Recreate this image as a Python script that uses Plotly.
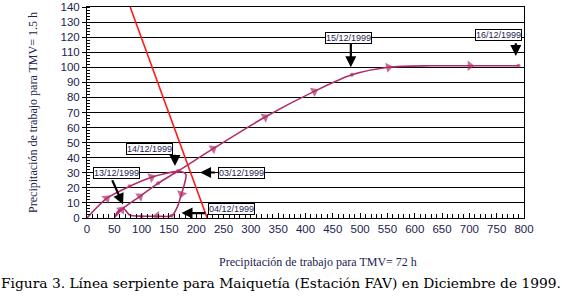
import plotly.graph_objects as go

# Snake line: working precipitation TMV=72 h (x) vs TMV=1.5 h (y)
p72 = [0, 36, 78, 118, 150, 168, 181, 178, 173, 165, 155, 128, 100, 78, 68, 58, 51, 63, 97, 130, 166, 231, 326, 416, 485, 552, 630, 701, 790]
p15 = [0, 13, 21, 27, 30, 31, 29, 22, 16, 7, 1.5, 1.2, 1.2, 2, 6, 5, 0.5, 5.5, 14.4, 23, 31, 46, 67, 84, 95, 100, 101, 101, 101]
marks = ["dot", "arrow", "dot", "arrow", "none", "dot", "none", "none", "arrow", "none", "dot", "arrow", "dot",
         "none", "none", "none", "none", "arrow", "arrow", "dot", "dot", "arrow", "arrow", "arrow",
         "dot", "arrow", "none", "arrow", "dot"]

# Threshold (red) line
red_x = [79, 220]
red_y = [140, 0]

# Date labels: text, box position, arrow tail and arrow tip
date_labels = ["14/12/1999", "13/12/1999", "03/12/1999", "04/12/1999", "15/12/1999", "16/12/1999"]
box_x = [115, 54, 283, 265, 478, 753]
box_y = [45.5, 30, 30, 6.2, 119.3, 121.7]
tail_x = [161, 45, 237, 219, 483, 785]
tail_y = [43, 26, 30.2, 3.3, 117, 117]
tip_x = [161, 66, 207, 173, 483, 785]
tip_y = [34.5, 9, 30.2, 3.3, 100, 107.5]

x_title = "Precipitación de trabajo para TMV= 72 h"
y_title = "Precipitación de trabajo para TMV= 1.5 h"
caption = "Figura 3. Línea serpiente para Maiquetía (Estación FAV) en Diciembre de 1999."

line_col = "#b02d6c"
txt_col = "#1c2350"

sym = {"dot": "circle", "arrow": "triangle-up", "none": "circle"}
size = {"dot": 4, "arrow": 9, "none": 0}

fig = go.Figure()
fig.add_trace(go.Scatter(
    x=red_x, y=red_y, mode="lines", line=dict(color="#ff1a1a", width=1.6),
    hoverinfo="skip", showlegend=False))
fig.add_trace(go.Scatter(
    x=p72, y=p15, mode="lines+markers",
    line=dict(color=line_col, width=1.6, shape="spline", smoothing=0.8),
    marker=dict(symbol=[sym[m] for m in marks], size=[size[m] for m in marks],
                color=line_col, angleref="previous", line=dict(width=0)),
    showlegend=False))

annotations = []
for t, bx, by in zip(date_labels, box_x, box_y):
    annotations.append(dict(
        x=bx, y=by, xref="x", yref="y", text=t, showarrow=False,
        font=dict(family="Arial, Liberation Sans", size=9, color=txt_col),
        bgcolor="white", bordercolor="black", borderwidth=1, borderpad=0))
for ax_, ay_, x_, y_ in zip(tail_x, tail_y, tip_x, tip_y):
    annotations.append(dict(
        x=x_, y=y_, xref="x", yref="y", ax=ax_, ay=ay_, axref="x", ayref="y",
        text="", showarrow=True, arrowhead=2, arrowsize=1, arrowwidth=2.2,
        arrowcolor="black"))

annotations.append(dict(x=0.528, y=-0.207, xref="paper", yref="paper", text=x_title,
                        showarrow=False, xanchor="center", yanchor="middle",
                        font=dict(family="Liberation Serif", size=12, color=txt_col)))
annotations.append(dict(x=-0.124, y=0.502, xref="paper", yref="paper", text=y_title,
                        showarrow=False, xanchor="center", yanchor="middle", textangle=-90,
                        font=dict(family="Liberation Serif", size=12, color=txt_col)))
annotations.append(dict(x=0.443, y=-0.308, xref="paper", yref="paper", text=caption,
                        showarrow=False, xanchor="center", yanchor="middle",
                        font=dict(family="DejaVu Serif", size=13.8, color="black")))

fig.update_layout(
    width=562, height=296,
    margin=dict(l=87, r=38, t=7, b=78, autoexpand=False),
    paper_bgcolor="white", plot_bgcolor="white",
    annotations=annotations,
    xaxis=dict(range=[0, 800], tick0=0, dtick=50, showgrid=False, zeroline=False, automargin=False,
               showline=True, linecolor="black", linewidth=1, mirror=True,
               ticks="inside", ticklen=5, tickcolor="black",
               minor=dict(dtick=10, ticks="inside", ticklen=4, tickcolor="black"),
               tickfont=dict(family="Arial, Liberation Sans", size=11.5, color=txt_col)),
    yaxis=dict(range=[0, 140], tick0=0, dtick=10, showgrid=True, gridcolor="black", gridwidth=1,
               zeroline=False, showline=True, linecolor="black", linewidth=1, mirror=True, automargin=False,
               ticks="outside", ticklen=4, tickcolor="black",
               minor=dict(dtick=2, ticks="inside", ticklen=3, tickcolor="black", showgrid=False),
               tickfont=dict(family="Arial, Liberation Sans", size=11.5, color=txt_col)),
)

fig.write_html("out.html", config={"displayModeBar": False},
               post_script="document.body.style.margin='0';")
